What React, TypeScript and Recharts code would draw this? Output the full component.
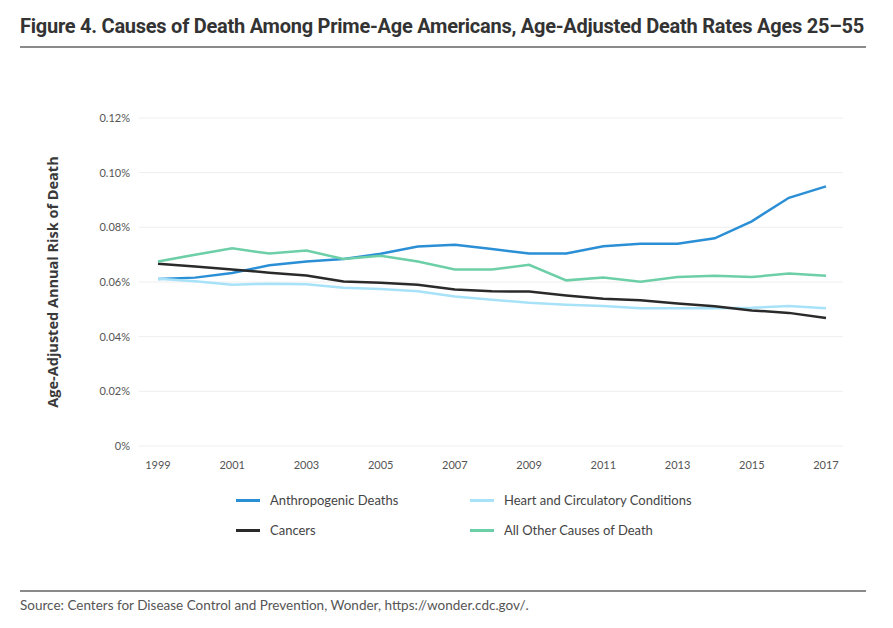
import { LineChart, Line, XAxis, YAxis, CartesianGrid } from 'recharts';

const years = [
  1999, 2000, 2001, 2002, 2003, 2004, 2005, 2006, 2007, 2008,
  2009, 2010, 2011, 2012, 2013, 2014, 2015, 2016, 2017,
];

// age-adjusted annual risk of death, in percent
const anthropogenic = [
  0.0611, 0.0616, 0.0633, 0.0661, 0.0675, 0.0684, 0.0703, 0.073, 0.0736, 0.0721,
  0.0704, 0.0704, 0.0731, 0.074, 0.074, 0.076, 0.0822, 0.0908, 0.095,
];
const heart = [
  0.0612, 0.0603, 0.059, 0.0594, 0.0592, 0.0579, 0.0574, 0.0566, 0.0547, 0.0535,
  0.0524, 0.0517, 0.0512, 0.0504, 0.0504, 0.0504, 0.0506, 0.0512, 0.0504,
];
const cancers = [
  0.0667, 0.0657, 0.0646, 0.0634, 0.0624, 0.0602, 0.0597, 0.059, 0.0573, 0.0566,
  0.0565, 0.0551, 0.0539, 0.0533, 0.0521, 0.0511, 0.0496, 0.0487, 0.0468,
];
const otherCauses = [
  0.0675, 0.07, 0.0723, 0.0704, 0.0715, 0.0684, 0.0696, 0.0675, 0.0646, 0.0646,
  0.0663, 0.0606, 0.0616, 0.0601, 0.0618, 0.0623, 0.0618, 0.0631, 0.0623,
];

const yTicks = [0, 0.02, 0.04, 0.06, 0.08, 0.1, 0.12];

const series = [
  { key: 'anthropogenic', name: 'Anthropogenic Deaths', color: '#2b8fd6' },
  { key: 'heart', name: 'Heart and Circulatory Conditions', color: '#a8e2f8' },
  { key: 'cancers', name: 'Cancers', color: '#2a2a2a' },
  { key: 'other', name: 'All Other Causes of Death', color: '#6dcfa7' },
];

const data = years.map((year, i) => ({
  year,
  anthropogenic: anthropogenic[i],
  heart: heart[i],
  cancers: cancers[i],
  other: otherCauses[i],
}));

const tickStyle = { fontFamily: 'Lato', fontSize: 11, fill: '#555' };

const LegendBox = () => (
  <div style={{ position: 'absolute', left: 0, top: 492, width: 893, height: 60 }}>
    {series.map((s, i) => (
      <div
        key={s.key}
        style={{
          position: 'absolute',
          left: i % 2 === 0 ? 236 : 470,
          top: Math.floor(i / 2) * 30,
          display: 'flex',
          alignItems: 'center',
          fontFamily: 'Lato',
          fontSize: 13,
          color: '#444',
          whiteSpace: 'nowrap',
        }}
      >
        <span
          style={{
            display: 'inline-block',
            width: 24,
            height: 3,
            background: s.color,
            marginRight: 10,
          }}
        />
        {s.name}
      </div>
    ))}
  </div>
);

export default function App() {
  return (
    <div style={{ position: 'relative', width: 893, height: 628, background: '#fff' }}>
      <style>{'body{margin:0}'}</style>
      <div
        style={{
          position: 'absolute',
          left: 20,
          top: 14,
          fontFamily: 'Roboto',
          fontWeight: 700,
          fontSize: 20,
          letterSpacing: -0.25,
          color: '#333',
          whiteSpace: 'nowrap',
        }}
      >
        Figure 4. Causes of Death Among Prime-Age Americans, Age-Adjusted Death Rates Ages 25–55
      </div>
      <div style={{ position: 'absolute', left: 20, top: 46, width: 846, height: 2, background: '#8a8a8a' }} />

      <div
        style={{
          position: 'absolute',
          left: 52,
          top: 282,
          transform: 'translate(-50%, -50%) rotate(-90deg)',
          fontFamily: 'Open Sans',
          fontWeight: 700,
          fontSize: 14.5,
          color: '#3a3a3a',
          whiteSpace: 'nowrap',
        }}
      >
        Age-Adjusted Annual Risk of Death
      </div>

      <div style={{ position: 'absolute', left: 0, top: 0 }}>
        <LineChart
          width={893}
          height={480}
          data={data}
          margin={{ top: 118, right: 50, left: 0, bottom: 0 }}
        >
          <CartesianGrid horizontal vertical={false} stroke="#eeeeee" />
          <XAxis
            dataKey="year"
            interval={1}
            axisLine={false}
            tickLine={false}
            tickSize={0}
            tickMargin={15}
            height={34}
            padding={{ left: 19, right: 17 }}
            tick={tickStyle}
          />
          <YAxis
            domain={[0, 0.12]}
            ticks={yTicks}
            width={139}
            axisLine={false}
            tickLine={false}
            tickSize={0}
            tickMargin={9}
            tick={tickStyle}
            tickFormatter={(v: number) => (v === 0 ? '0%' : `${v.toFixed(2)}%`)}
          />
          {series.map((s) => (
            <Line
              key={s.key}
              type="linear"
              dataKey={s.key}
              name={s.name}
              stroke={s.color}
              strokeWidth={2.5}
              dot={false}
              isAnimationActive={false}
            />
          ))}
        </LineChart>
      </div>

      <LegendBox />

      <div style={{ position: 'absolute', left: 20, top: 590, width: 846, height: 2, background: '#8a8a8a' }} />
      <div
        style={{
          position: 'absolute',
          left: 20,
          top: 597,
          fontFamily: 'Lato',
          fontSize: 13.5,
          color: '#555',
          whiteSpace: 'nowrap',
        }}
      >
        Source: Centers for Disease Control and Prevention, Wonder, https://wonder.cdc.gov/.
      </div>
    </div>
  );
}
